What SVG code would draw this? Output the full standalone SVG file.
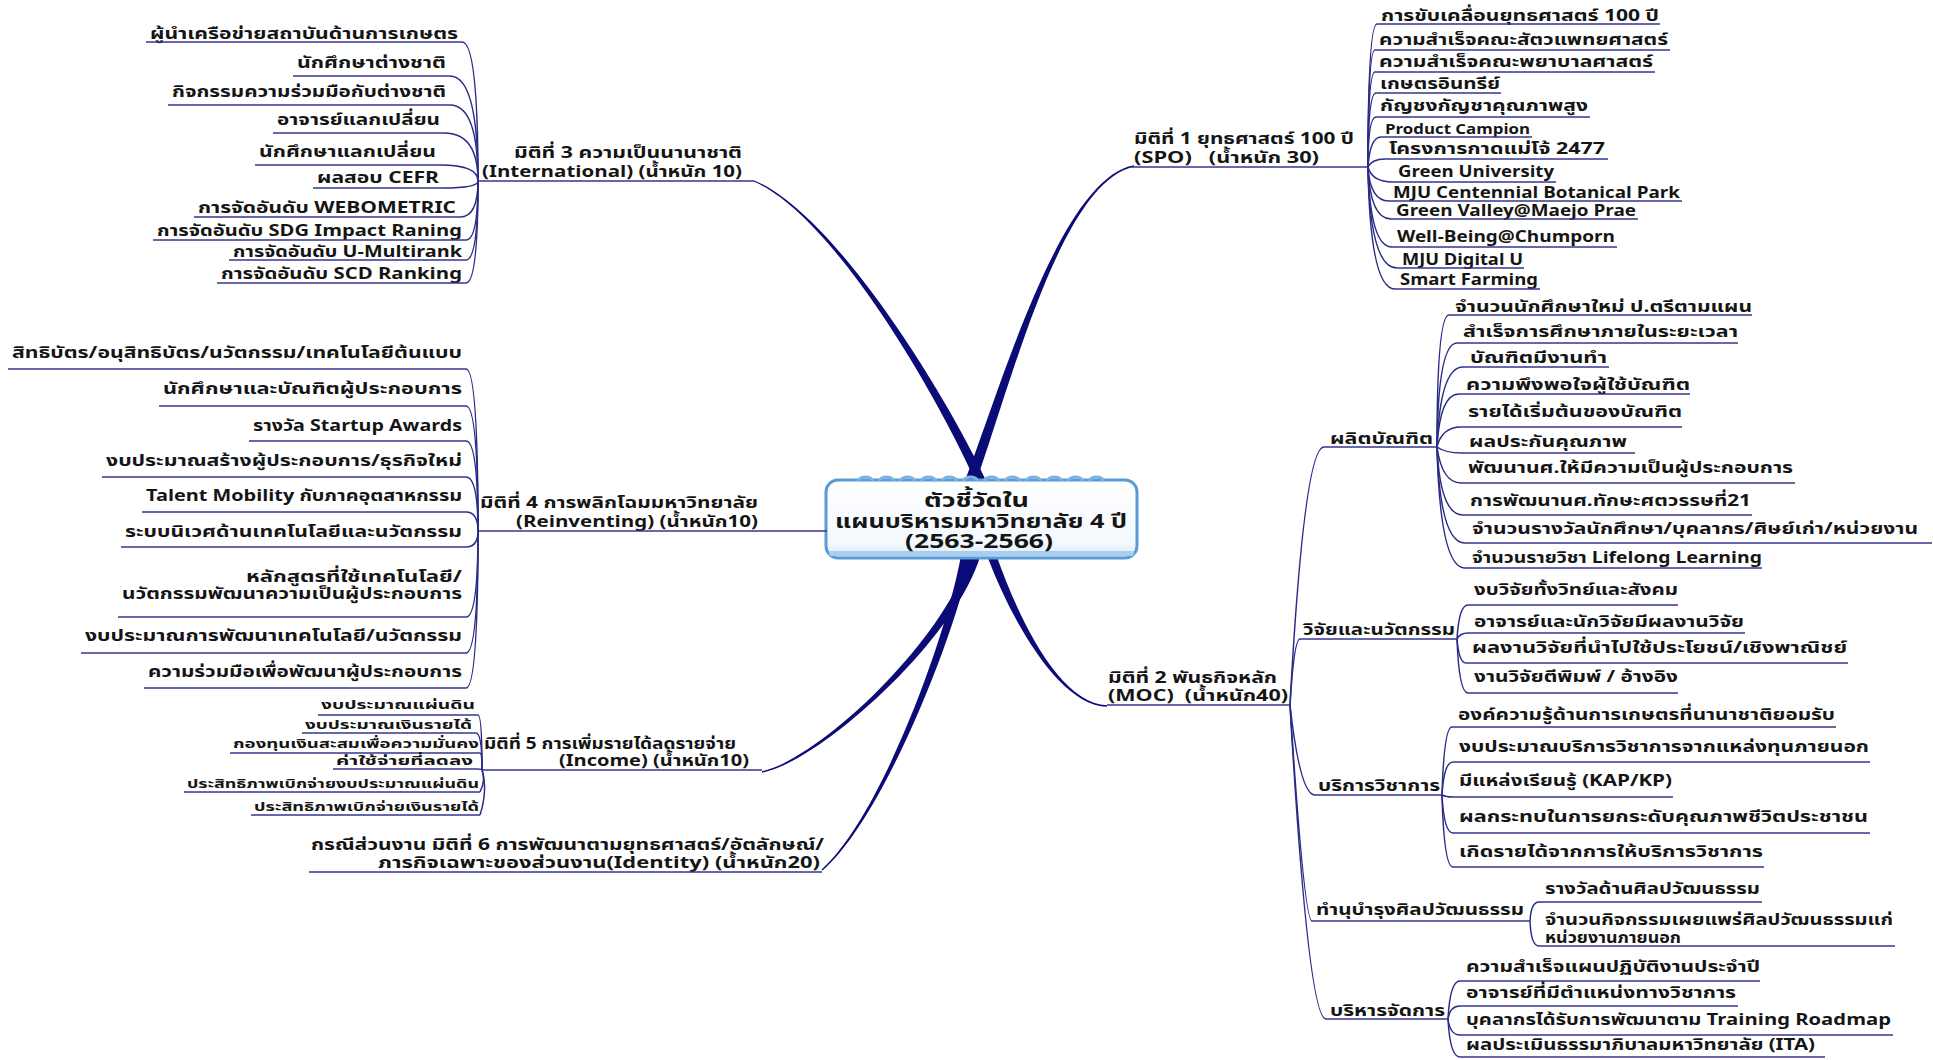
<svg xmlns="http://www.w3.org/2000/svg" width="1933" height="1060" viewBox="0 0 1933 1060">
<style>
.t{font-family:Tahoma,"Noto Sans Thai","Noto Sans","DejaVu Sans",sans-serif;font-weight:bold;fill:#151515;font-size:16px}
.s{font-size:12.5px}
.m{font-size:14px}
.l{font-size:16px}
.c{font-size:20px}
.ul{fill:none;stroke:#34348f;stroke-width:1.6}
.cn{fill:none;stroke:#2c2c88;stroke-width:1.5}
.br{fill:#0b0b78}
</style>
<defs>
<linearGradient id="boxg" x1="0" y1="0" x2="0" y2="1">
<stop offset="0" stop-color="#ffffff"/>
<stop offset="0.8" stop-color="#f4f9fe"/>
<stop offset="1" stop-color="#dbeaf8"/>
</linearGradient>
</defs>
<rect width="1933" height="1060" fill="#ffffff"/>

<g id="connectors">
<path class="br" d="M988.6 486 C948.7 398.4 835.5 213.9 754.3 180.4 L753.7 181.6 C834.5 216.1 941.3 401.6 979.4 490 Z"/>
<path class="br" d="M973.1 489.9 C1009.2 391.6 1060.2 181.3 1134.1 166.7 L1133.9 165.3 C1059.8 178.7 1000.8 388.4 962.9 486.1 Z"/>
<path class="br" d="M970.2 554.6 C946.2 638.9 819.8 758.8 761.9 771.3 L762.1 772.7 C820.2 761.2 953.8 641.1 979.8 557.4 Z"/>
<path class="br" d="M961.1 555.1 C946.1 639.3 879.2 819.1 821.5 869.5 L822.5 870.5 C880.8 820.9 953.9 640.7 970.9 556.9 Z"/>
<path class="br" d="M987.8 557.5 C1011.7 621.2 1060 706 1107 706.7 L1107 705.3 C1060 704 1018.3 618.8 996.2 554.5 Z"/>
<path class="cn" d="M462 42 Q478 42 478 181"/>
<path class="cn" d="M450 76 Q478 76 478 181"/>
<path class="cn" d="M450 105 Q478 105 478 181"/>
<path class="cn" d="M444 133 Q478 133 478 181"/>
<path class="cn" d="M440 165 Q478 165 478 181"/>
<path class="cn" d="M443 188 Q478 188 478 181"/>
<path class="cn" d="M460 217 Q478 217 478 181"/>
<path class="cn" d="M466 240 Q478 240 478 181"/>
<path class="cn" d="M466 260 Q478 260 478 181"/>
<path class="cn" d="M466 283 Q478 283 478 181"/>
<path class="cn" d="M466 369 Q478 369 478 531"/>
<path class="cn" d="M466 406 Q478 406 478 531"/>
<path class="cn" d="M466 441 Q478 441 478 531"/>
<path class="cn" d="M466 477 Q478 477 478 531"/>
<path class="cn" d="M466 512 Q478 512 478 531"/>
<path class="cn" d="M466 547 Q478 547 478 531"/>
<path class="cn" d="M466 617 Q478 617 478 531"/>
<path class="cn" d="M466 653 Q478 653 478 531"/>
<path class="cn" d="M466 688 Q478 688 478 531"/>
<path class="cn" d="M478 715 Q482 715 482 770"/>
<path class="cn" d="M476 733 Q482 733 482 770"/>
<path class="cn" d="M480 753 Q482 753 482 770"/>
<path class="cn" d="M477 769 Q482 769 482 770"/>
<path class="cn" d="M480 792 Q486 780 482 770"/>
<path class="cn" d="M480 815 Q488 790 482 770"/>
<path class="cn" d="M1368 167 Q1368 24 1377 24"/>
<path class="cn" d="M1368 167 Q1368 50 1375 50"/>
<path class="cn" d="M1368 167 Q1368 72 1375 72"/>
<path class="cn" d="M1368 167 Q1368 93 1376 93"/>
<path class="cn" d="M1368 167 Q1368 117 1376 117"/>
<path class="cn" d="M1368 167 Q1370 137 1381 137"/>
<path class="cn" d="M1368 167 Q1372 159 1385 159"/>
<path class="cn" d="M1368 167 Q1372 182 1393 182"/>
<path class="cn" d="M1368 167 Q1370 201 1389 201"/>
<path class="cn" d="M1368 167 Q1370 219 1391 219"/>
<path class="cn" d="M1368 167 Q1370 247 1392 247"/>
<path class="cn" d="M1368 167 Q1370 268 1397 268"/>
<path class="cn" d="M1368 167 Q1370 289 1395 289"/>
<path class="cn" d="M1290 705 Q1304 447 1324 447"/>
<path class="cn" d="M1290 705 Q1294 639 1300 639"/>
<path class="cn" d="M1290 705 Q1300 795 1315 795"/>
<path class="cn" d="M1290 705 Q1304 921 1312 921"/>
<path class="cn" d="M1290 705 Q1308 1019 1326 1019"/>
<path class="cn" d="M1437 447 Q1437 315 1449 315"/>
<path class="cn" d="M1437 447 Q1438 343 1457 343"/>
<path class="cn" d="M1437 447 Q1440 367 1463 367"/>
<path class="cn" d="M1437 447 Q1440 394 1459 394"/>
<path class="cn" d="M1437 447 Q1442 427 1461 427"/>
<path class="cn" d="M1437 447 Q1445 453 1462 453"/>
<path class="cn" d="M1437 447 Q1442 483 1461 483"/>
<path class="cn" d="M1437 447 Q1440 515 1463 515"/>
<path class="cn" d="M1437 447 Q1440 543 1465 543"/>
<path class="cn" d="M1437 447 Q1440 568 1465 568"/>
<path class="cn" d="M1457 639 Q1459 605 1468 605"/>
<path class="cn" d="M1457 639 Q1460 633 1468 633"/>
<path class="cn" d="M1457 639 Q1459 663 1466 663"/>
<path class="cn" d="M1457 639 Q1459 693 1468 693"/>
<path class="cn" d="M1442 795 Q1444 727 1452 727"/>
<path class="cn" d="M1442 795 Q1444 762 1453 762"/>
<path class="cn" d="M1442 795 Q1446 797 1453 797"/>
<path class="cn" d="M1442 795 Q1444 833 1453 833"/>
<path class="cn" d="M1442 795 Q1444 867 1453 867"/>
<path class="cn" d="M1530 921 Q1531 902 1539 902"/>
<path class="cn" d="M1530 921 Q1531 946 1539 946"/>
<path class="cn" d="M1448 1019 Q1450 981 1460 981"/>
<path class="cn" d="M1448 1019 Q1450 1006 1460 1006"/>
<path class="cn" d="M1448 1019 Q1450 1035 1460 1035"/>
<path class="cn" d="M1448 1019 Q1450 1057 1460 1057"/>
</g>

<g id="center">
<rect x="826" y="480" width="311" height="78" rx="12" fill="url(#boxg)" stroke="#5b9bd5" stroke-width="3"/>
<rect x="829" y="551" width="305" height="5" rx="2.5" fill="#a9cdee"/>
<path d="M858 481 a8 6 0 0 1 15 0 M879 481 a8 6 0 0 1 15 0 M900 481 a8 6 0 0 1 15 0 M921 481 a8 6 0 0 1 15 0 M942 481 a8 6 0 0 1 15 0 M963 481 a8 6 0 0 1 15 0 M984 481 a8 6 0 0 1 15 0 M1005 481 a8 6 0 0 1 15 0 M1026 481 a8 6 0 0 1 15 0 M1047 481 a8 6 0 0 1 15 0 M1068 481 a8 6 0 0 1 15 0 M1089 481 a8 6 0 0 1 15 0" fill="none" stroke="#7fb2e2" stroke-width="3"/>
<text class="t c" x="924" y="507" textLength="105" lengthAdjust="spacingAndGlyphs">ตัวชี้วัดใน</text>
<text class="t c" x="835" y="528" textLength="292" lengthAdjust="spacingAndGlyphs">แผนบริหารมหาวิทยาลัย 4 ปี</text>
<text class="t c" x="905" y="548" textLength="148" lengthAdjust="spacingAndGlyphs">(2563-2566)</text>
</g>

<g id="dim1">
<text class="t l" x="1134" y="144" textLength="220" lengthAdjust="spacingAndGlyphs">มิติที่ 1 ยุทธศาสตร์ 100 ปี</text>
<text class="t l" x="1134" y="163" textLength="185" lengthAdjust="spacingAndGlyphs" xml:space="preserve">(SPO)   (น้ำหนัก 30)</text>
<path class="ul" d="M1129 167 H1368"/>
</g>
<g id="dim1-1"><text class="t" x="1381" y="21" textLength="278" lengthAdjust="spacingAndGlyphs">การขับเคลื่อนยุทธศาสตร์ 100 ปี</text><path class="ul" d="M1377 24 H1660"/></g>
<g id="dim1-2"><text class="t" x="1379" y="45" textLength="289" lengthAdjust="spacingAndGlyphs">ความสำเร็จคณะสัตวแพทยศาสตร์</text><path class="ul" d="M1375 50 H1670"/></g>
<g id="dim1-3"><text class="t" x="1379" y="67" textLength="274" lengthAdjust="spacingAndGlyphs">ความสำเร็จคณะพยาบาลศาสตร์</text><path class="ul" d="M1375 72 H1655"/></g>
<g id="dim1-4"><text class="t" x="1380" y="89" textLength="120" lengthAdjust="spacingAndGlyphs">เกษตรอินทรีย์</text><path class="ul" d="M1376 93 H1501"/></g>
<g id="dim1-5"><text class="t" x="1380" y="111" textLength="208" lengthAdjust="spacingAndGlyphs">กัญชงกัญชาคุณภาพสูง</text><path class="ul" d="M1376 117 H1590"/></g>
<g id="dim1-6"><text class="t m" x="1385" y="134" textLength="145" lengthAdjust="spacingAndGlyphs">Product Campion</text><path class="ul" d="M1381 137 H1532"/></g>
<g id="dim1-7"><text class="t" x="1389" y="154" textLength="216" lengthAdjust="spacingAndGlyphs">โครงการกาดแม่โจ้ 2477</text><path class="ul" d="M1385 159 H1608"/></g>
<g id="dim1-8"><text class="t" x="1398" y="177" textLength="156" lengthAdjust="spacingAndGlyphs">Green University</text><path class="ul" d="M1393 182 H1556"/></g>
<g id="dim1-9"><text class="t" x="1393" y="198" textLength="287" lengthAdjust="spacingAndGlyphs">MJU Centennial Botanical Park</text><path class="ul" d="M1389 201 H1682"/></g>
<g id="dim1-10"><text class="t" x="1396" y="216" textLength="240" lengthAdjust="spacingAndGlyphs">Green Valley@Maejo Prae</text><path class="ul" d="M1391 219 H1638"/></g>
<g id="dim1-11"><text class="t" x="1397" y="242" textLength="218" lengthAdjust="spacingAndGlyphs">Well-Being@Chumporn</text><path class="ul" d="M1392 247 H1617"/></g>
<g id="dim1-12"><text class="t" x="1402" y="265" textLength="121" lengthAdjust="spacingAndGlyphs">MJU Digital U</text><path class="ul" d="M1397 268 H1524"/></g>
<g id="dim1-13"><text class="t" x="1400" y="285" textLength="138" lengthAdjust="spacingAndGlyphs">Smart Farming</text><path class="ul" d="M1395 289 H1540"/></g>

<g id="dim3">
<text class="t l" x="514" y="158" textLength="228" lengthAdjust="spacingAndGlyphs">มิติที่ 3 ความเป็นนานาชาติ</text>
<text class="t l" x="482" y="177" textLength="260" lengthAdjust="spacingAndGlyphs">(International) (น้ำหนัก 10)</text>
<path class="ul" d="M478 181 H754"/>
</g>
<g id="dim3-1"><text class="t" x="150" y="39" textLength="308" lengthAdjust="spacingAndGlyphs">ผู้นำเครือข่ายสถาบันด้านการเกษตร</text><path class="ul" d="M146 42 H462"/></g>
<g id="dim3-2"><text class="t" x="297" y="68" textLength="149" lengthAdjust="spacingAndGlyphs">นักศึกษาต่างชาติ</text><path class="ul" d="M293 76 H450"/></g>
<g id="dim3-3"><text class="t" x="172" y="97" textLength="274" lengthAdjust="spacingAndGlyphs">กิจกรรมความร่วมมือกับต่างชาติ</text><path class="ul" d="M168 105 H450"/></g>
<g id="dim3-4"><text class="t" x="277" y="125" textLength="163" lengthAdjust="spacingAndGlyphs">อาจารย์แลกเปลี่ยน</text><path class="ul" d="M273 133 H444"/></g>
<g id="dim3-5"><text class="t" x="259" y="157" textLength="177" lengthAdjust="spacingAndGlyphs">นักศึกษาแลกเปลี่ยน</text><path class="ul" d="M255 165 H440"/></g>
<g id="dim3-6"><text class="t" x="317" y="183" textLength="122" lengthAdjust="spacingAndGlyphs">ผลสอบ CEFR</text><path class="ul" d="M313 188 H443"/></g>
<g id="dim3-7"><text class="t" x="198" y="213" textLength="258" lengthAdjust="spacingAndGlyphs">การจัดอันดับ WEBOMETRIC</text><path class="ul" d="M194 217 H460"/></g>
<g id="dim3-8"><text class="t" x="157" y="236" textLength="305" lengthAdjust="spacingAndGlyphs">การจัดอันดับ SDG Impact Raning</text><path class="ul" d="M153 240 H466"/></g>
<g id="dim3-9"><text class="t" x="233" y="257" textLength="229" lengthAdjust="spacingAndGlyphs">การจัดอันดับ U-Multirank</text><path class="ul" d="M229 260 H466"/></g>
<g id="dim3-10"><text class="t" x="221" y="279" textLength="241" lengthAdjust="spacingAndGlyphs">การจัดอันดับ SCD Ranking</text><path class="ul" d="M217 283 H466"/></g>

<g id="dim4">
<text class="t l" x="480" y="508" textLength="278" lengthAdjust="spacingAndGlyphs">มิติที่ 4 การพลิกโฉมมหาวิทยาลัย</text>
<text class="t l" x="516" y="527" textLength="242" lengthAdjust="spacingAndGlyphs">(Reinventing) (น้ำหนัก10)</text>
<path class="ul" d="M478 531 H827"/>
</g>
<g id="dim4-1"><text class="t" x="12" y="358" textLength="450" lengthAdjust="spacingAndGlyphs">สิทธิบัตร/อนุสิทธิบัตร/นวัตกรรม/เทคโนโลยีต้นแบบ</text><path class="ul" d="M8 369 H466"/></g>
<g id="dim4-2"><text class="t" x="163" y="394" textLength="299" lengthAdjust="spacingAndGlyphs">นักศึกษาและบัณฑิตผู้ประกอบการ</text><path class="ul" d="M159 406 H466"/></g>
<g id="dim4-3"><text class="t" x="253" y="431" textLength="209" lengthAdjust="spacingAndGlyphs">รางวัล Startup Awards</text><path class="ul" d="M249 441 H466"/></g>
<g id="dim4-4"><text class="t" x="106" y="466" textLength="356" lengthAdjust="spacingAndGlyphs">งบประมาณสร้างผู้ประกอบการ/ธุรกิจใหม่</text><path class="ul" d="M102 477 H466"/></g>
<g id="dim4-5"><text class="t" x="146" y="501" textLength="316" lengthAdjust="spacingAndGlyphs">Talent Mobility กับภาคอุตสาหกรรม</text><path class="ul" d="M142 512 H466"/></g>
<g id="dim4-6"><text class="t" x="125" y="537" textLength="337" lengthAdjust="spacingAndGlyphs">ระบบนิเวศด้านเทคโนโลยีและนวัตกรรม</text><path class="ul" d="M121 547 H466"/></g>
<g id="dim4-7"><text class="t" x="246" y="582" textLength="216" lengthAdjust="spacingAndGlyphs">หลักสูตรที่ใช้เทคโนโลยี/</text><text class="t" x="122" y="599" textLength="340" lengthAdjust="spacingAndGlyphs">นวัตกรรมพัฒนาความเป็นผู้ประกอบการ</text><path class="ul" d="M118 617 H466"/></g>
<g id="dim4-8"><text class="t" x="85" y="641" textLength="377" lengthAdjust="spacingAndGlyphs">งบประมาณการพัฒนาเทคโนโลยี/นวัตกรรม</text><path class="ul" d="M81 653 H466"/></g>
<g id="dim4-9"><text class="t" x="148" y="677" textLength="314" lengthAdjust="spacingAndGlyphs">ความร่วมมือเพื่อพัฒนาผู้ประกอบการ</text><path class="ul" d="M144 688 H466"/></g>

<g id="dim5">
<text class="t l" x="484" y="749" textLength="252" lengthAdjust="spacingAndGlyphs">มิติที่ 5 การเพิ่มรายได้ลดรายจ่าย</text>
<text class="t l" x="559" y="766" textLength="190" lengthAdjust="spacingAndGlyphs">(Income) (น้ำหนัก10)</text>
<path class="ul" d="M482 770 H762"/>
</g>
<g id="dim5-1"><text class="t s" x="321" y="709" textLength="154" lengthAdjust="spacingAndGlyphs">งบประมาณแผ่นดิน</text><path class="ul" d="M318 715 H478"/></g>
<g id="dim5-2"><text class="t s" x="305" y="729" textLength="167" lengthAdjust="spacingAndGlyphs">งบประมาณเงินรายได้</text><path class="ul" d="M302 733 H476"/></g>
<g id="dim5-3"><text class="t s" x="233" y="748" textLength="246" lengthAdjust="spacingAndGlyphs">กองทุนเงินสะสมเพื่อความมั่นคง</text><path class="ul" d="M230 753 H480"/></g>
<g id="dim5-4"><text class="t s" x="336" y="765" textLength="137" lengthAdjust="spacingAndGlyphs">ค่าใช้จ่ายที่ลดลง</text><path class="ul" d="M333 769 H477"/></g>
<g id="dim5-5"><text class="t s" x="187" y="788" textLength="292" lengthAdjust="spacingAndGlyphs">ประสิทธิภาพเบิกจ่ายงบประมาณแผ่นดิน</text><path class="ul" d="M184 792 H480"/></g>
<g id="dim5-6"><text class="t s" x="254" y="811" textLength="225" lengthAdjust="spacingAndGlyphs">ประสิทธิภาพเบิกจ่ายเงินรายได้</text><path class="ul" d="M251 815 H480"/></g>

<g id="dim6">
<text class="t l" x="311" y="850" textLength="513" lengthAdjust="spacingAndGlyphs">กรณีส่วนงาน มิติที่ 6 การพัฒนาตามยุทธศาสตร์/อัตลักษณ์/</text>
<text class="t l" x="378" y="868" textLength="442" lengthAdjust="spacingAndGlyphs">ภารกิจเฉพาะของส่วนงาน(Identity) (น้ำหนัก20)</text>
<path class="ul" d="M309 872 H822"/>
</g>

<g id="dim2">
<text class="t l" x="1108" y="683" textLength="169" lengthAdjust="spacingAndGlyphs">มิติที่ 2 พันธกิจหลัก</text>
<text class="t l" x="1108" y="701" textLength="180" lengthAdjust="spacingAndGlyphs" xml:space="preserve">(MOC)  (น้ำหนัก40)</text>
<path class="ul" d="M1107 705 H1290"/>
</g>

<g id="dim2-grad"><text class="t" x="1330" y="444" textLength="103" lengthAdjust="spacingAndGlyphs">ผลิตบัณฑิต</text><path class="ul" d="M1324 447 H1437"/></g>
<g id="grad-1"><text class="t" x="1455" y="312" textLength="297" lengthAdjust="spacingAndGlyphs">จำนวนนักศึกษาใหม่ ป.ตรีตามแผน</text><path class="ul" d="M1449 315 H1752"/></g>
<g id="grad-2"><text class="t" x="1463" y="337" textLength="275" lengthAdjust="spacingAndGlyphs">สำเร็จการศึกษาภายในระยะเวลา</text><path class="ul" d="M1457 343 H1738"/></g>
<g id="grad-3"><text class="t" x="1470" y="363" textLength="137" lengthAdjust="spacingAndGlyphs">บัณฑิตมีงานทำ</text><path class="ul" d="M1463 367 H1609"/></g>
<g id="grad-4"><text class="t" x="1466" y="390" textLength="224" lengthAdjust="spacingAndGlyphs">ความพึงพอใจผู้ใช้บัณฑิต</text><path class="ul" d="M1459 394 H1690"/></g>
<g id="grad-5"><text class="t" x="1468" y="417" textLength="214" lengthAdjust="spacingAndGlyphs">รายได้เริ่มต้นของบัณฑิต</text><path class="ul" d="M1461 427 H1682"/></g>
<g id="grad-6"><text class="t" x="1469" y="447" textLength="158" lengthAdjust="spacingAndGlyphs">ผลประกันคุณภาพ</text><path class="ul" d="M1462 453 H1635"/></g>
<g id="grad-7"><text class="t" x="1468" y="473" textLength="325" lengthAdjust="spacingAndGlyphs">พัฒนานศ.ให้มีความเป็นผู้ประกอบการ</text><path class="ul" d="M1461 483 H1795"/></g>
<g id="grad-8"><text class="t" x="1470" y="506" textLength="281" lengthAdjust="spacingAndGlyphs">การพัฒนานศ.ทักษะศตวรรษที่21</text><path class="ul" d="M1463 515 H1752"/></g>
<g id="grad-9"><text class="t" x="1472" y="534" textLength="446" lengthAdjust="spacingAndGlyphs">จำนวนรางวัลนักศึกษา/บุคลากร/ศิษย์เก่า/หน่วยงาน</text><path class="ul" d="M1465 543 H1932"/></g>
<g id="grad-10"><text class="t" x="1472" y="563" textLength="290" lengthAdjust="spacingAndGlyphs">จำนวนรายวิชา Lifelong Learning</text><path class="ul" d="M1465 568 H1762"/></g>

<g id="dim2-research"><text class="t" x="1303" y="635" textLength="152" lengthAdjust="spacingAndGlyphs">วิจัยและนวัตกรรม</text><path class="ul" d="M1300 639 H1457"/></g>
<g id="res-1"><text class="t" x="1474" y="595" textLength="204" lengthAdjust="spacingAndGlyphs">งบวิจัยทั้งวิทย์และสังคม</text><path class="ul" d="M1468 605 H1678"/></g>
<g id="res-2"><text class="t" x="1474" y="627" textLength="270" lengthAdjust="spacingAndGlyphs">อาจารย์และนักวิจัยมีผลงานวิจัย</text><path class="ul" d="M1468 633 H1745"/></g>
<g id="res-3"><text class="t" x="1472" y="653" textLength="375" lengthAdjust="spacingAndGlyphs">ผลงานวิจัยที่นำไปใช้ประโยชน์/เชิงพาณิชย์</text><path class="ul" d="M1466 663 H1848"/></g>
<g id="res-4"><text class="t" x="1474" y="682" textLength="204" lengthAdjust="spacingAndGlyphs">งานวิจัยตีพิมพ์ / อ้างอิง</text><path class="ul" d="M1468 693 H1678"/></g>

<g id="dim2-service"><text class="t" x="1318" y="791" textLength="122" lengthAdjust="spacingAndGlyphs">บริการวิชาการ</text><path class="ul" d="M1315 795 H1442"/></g>
<g id="svc-1"><text class="t" x="1458" y="720" textLength="377" lengthAdjust="spacingAndGlyphs">องค์ความรู้ด้านการเกษตรที่นานาชาติยอมรับ</text><path class="ul" d="M1452 727 H1836"/></g>
<g id="svc-2"><text class="t" x="1459" y="752" textLength="410" lengthAdjust="spacingAndGlyphs">งบประมาณบริการวิชาการจากแหล่งทุนภายนอก</text><path class="ul" d="M1453 762 H1870"/></g>
<g id="svc-3"><text class="t" x="1459" y="786" textLength="213" lengthAdjust="spacingAndGlyphs">มีแหล่งเรียนรู้ (KAP/KP)</text><path class="ul" d="M1453 797 H1673"/></g>
<g id="svc-4"><text class="t" x="1459" y="822" textLength="409" lengthAdjust="spacingAndGlyphs">ผลกระทบในการยกระดับคุณภาพชีวิตประชาชน</text><path class="ul" d="M1453 833 H1870"/></g>
<g id="svc-5"><text class="t" x="1459" y="857" textLength="304" lengthAdjust="spacingAndGlyphs">เกิดรายได้จากการให้บริการวิชาการ</text><path class="ul" d="M1453 867 H1764"/></g>

<g id="dim2-culture"><text class="t" x="1316" y="915" textLength="208" lengthAdjust="spacingAndGlyphs">ทำนุบำรุงศิลปวัฒนธรรม</text><path class="ul" d="M1312 921 H1530"/></g>
<g id="cul-1"><text class="t" x="1545" y="894" textLength="215" lengthAdjust="spacingAndGlyphs">รางวัลด้านศิลปวัฒนธรรม</text><path class="ul" d="M1539 902 H1762"/></g>
<g id="cul-2"><text class="t" x="1545" y="925" textLength="348" lengthAdjust="spacingAndGlyphs">จำนวนกิจกรรมเผยแพร่ศิลปวัฒนธรรมแก่</text><text class="t" x="1545" y="943" textLength="136" lengthAdjust="spacingAndGlyphs">หน่วยงานภายนอก</text><path class="ul" d="M1539 946 H1895"/></g>

<g id="dim2-admin"><text class="t" x="1330" y="1016" textLength="115" lengthAdjust="spacingAndGlyphs">บริหารจัดการ</text><path class="ul" d="M1326 1019 H1448"/></g>
<g id="adm-1"><text class="t" x="1466" y="972" textLength="294" lengthAdjust="spacingAndGlyphs">ความสำเร็จแผนปฏิบัติงานประจำปี</text><path class="ul" d="M1460 981 H1760"/></g>
<g id="adm-2"><text class="t" x="1466" y="998" textLength="270" lengthAdjust="spacingAndGlyphs">อาจารย์ที่มีตำแหน่งทางวิชาการ</text><path class="ul" d="M1460 1006 H1738"/></g>
<g id="adm-3"><text class="t" x="1466" y="1025" textLength="425" lengthAdjust="spacingAndGlyphs">บุคลากรได้รับการพัฒนาตาม Training Roadmap</text><path class="ul" d="M1460 1035 H1893"/></g>
<g id="adm-4"><text class="t" x="1466" y="1050" textLength="349" lengthAdjust="spacingAndGlyphs">ผลประเมินธรรมาภิบาลมหาวิทยาลัย (ITA)</text><path class="ul" d="M1460 1057 H1825"/></g>
</svg>
